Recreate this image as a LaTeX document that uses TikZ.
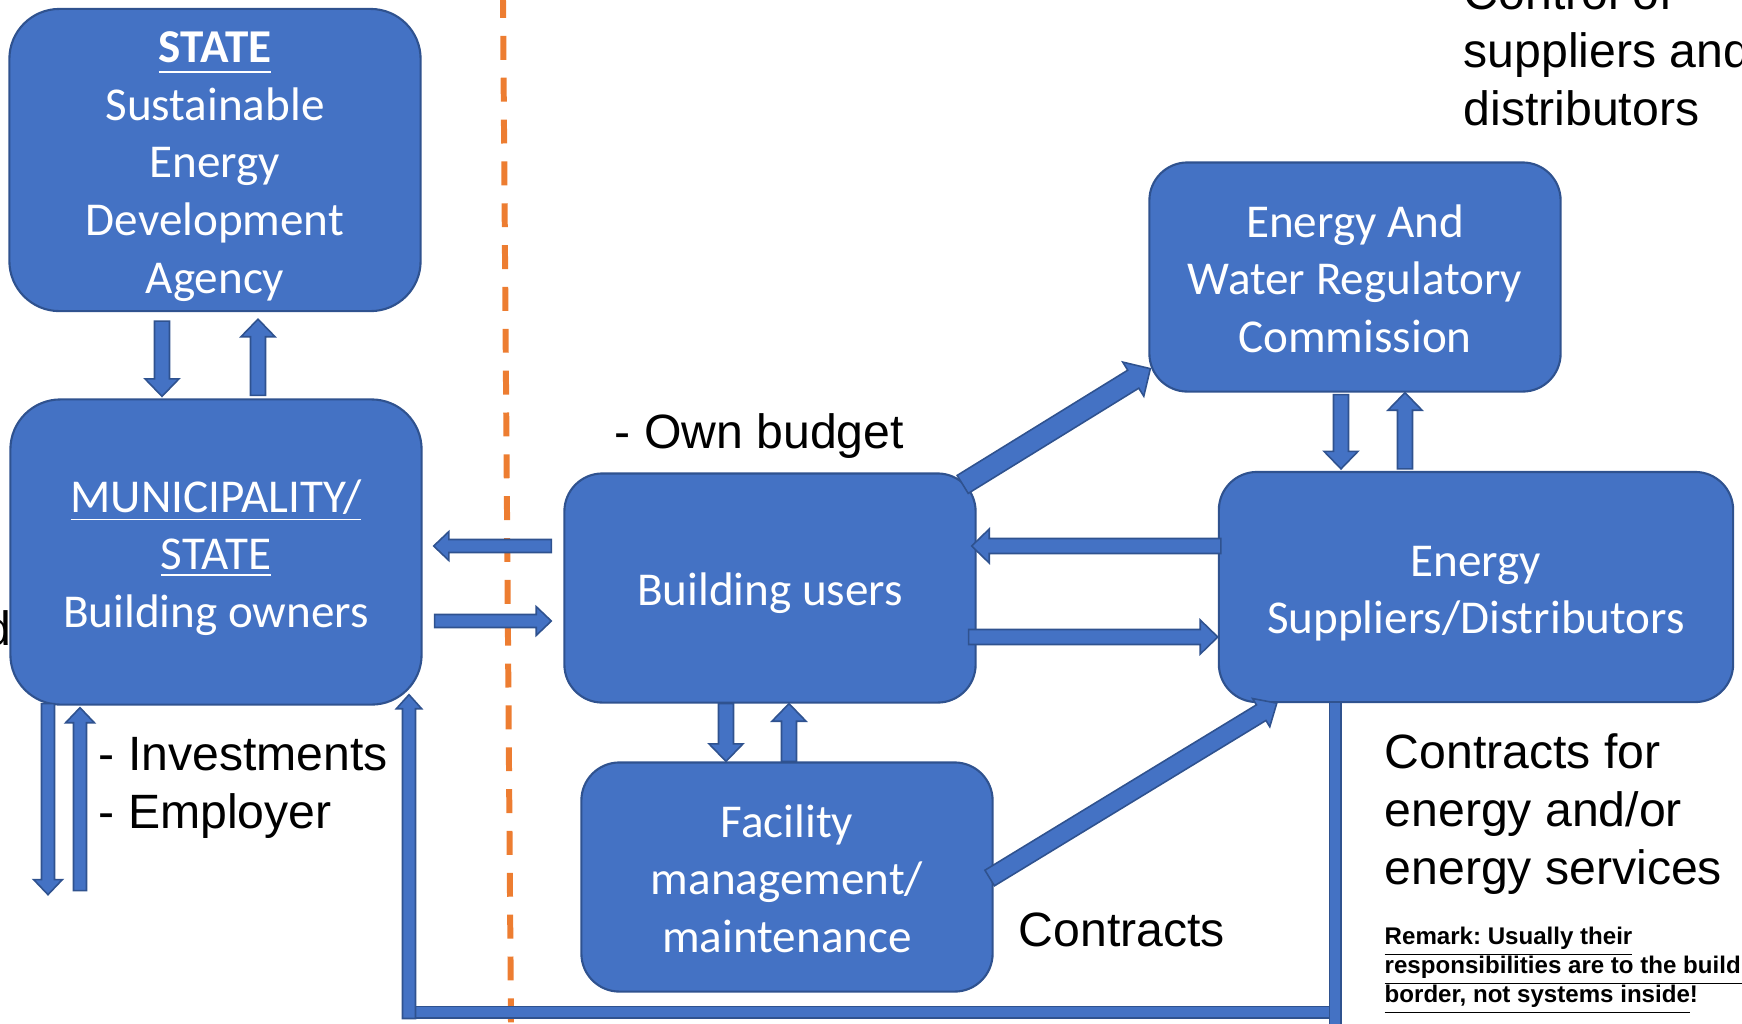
\documentclass[tikz,border=0pt]{standalone}
\usepackage{fontspec}
\setmainfont{Carlito}
\newfontfamily\arialfont{Liberation Sans}
\usepackage{tikz}
\usetikzlibrary{positioning,calc}
\usepackage{xcolor}
\definecolor{boxblue}{HTML}{4472C4}
\definecolor{boxline}{HTML}{2F528F}
\definecolor{divorange}{HTML}{ED7D31}
\newcommand{\boxfont}{\fontsize{13.4pt}{16.4pt}\selectfont}
\newcommand{\notefont}{\arialfont\fontsize{13.7pt}{16.5pt}\selectfont}
\newcommand{\remarkfont}{\arialfont\bfseries\fontsize{6.85pt}{8.25pt}\selectfont
\frenchspacing\lineskiplimit=-20pt\lineskip=0pt}
% fixed height of the first line
\newcommand{\bstrut}{\rule{0pt}{14pt}}
\newcommand{\nstrut}{\rule{0pt}{13pt}}
\tikzstyle{block}=[rectangle, draw=boxline, line width=0.6pt, fill=boxblue, text=white,
align=center, inner sep=0pt, font=\boxfont, minimum width=4.11cm, minimum height=2.29cm,
rounded corners=0.38cm, execute at end node={\rule[-3.8pt]{0pt}{0pt}}]
\tikzstyle{note}=[inner sep=0pt, align=left, font=\notefont, text=black,
execute at end node={\rule[-0.234em]{0pt}{0pt}}]
\tikzstyle{arrowbody}=[draw=boxline, line width=0.45pt, fill=boxblue, line join=miter]
\tikzstyle{loop line}=[draw=boxline, line width=0.45pt, double=boxblue, double distance=2.8pt,
line join=miter]
\tikzstyle{divider}=[draw=divorange, line width=1.7pt, dash pattern=on 6.8pt off 5.1pt,
dash phase=1.7pt]
\tikzset{ba shaft/.store in=\bashaft, ba head/.store in=\bahead, ba len/.store in=\balen,
ba shaft=2.13pt, ba head=4.84pt, ba len=5pt,
thin arrow/.style={ba shaft=1.85pt, ba head=4.1pt, ba len=4.3pt},
wide arrow/.style={ba shaft=3pt, ba head=5.7pt, ba len=5.7pt},
mid arrow/.style={ba shaft=2.6pt, ba head=4.7pt, ba len=5.2pt},
loop arrow/.style={ba shaft=1.85pt, ba head=3.6pt, ba len=4pt}}
% block arrow from #2 to #3
\newcommand{\blockarrow}[3][]{%
\begin{scope}[#1]
\coordinate (ba-s) at #2;
\coordinate (ba-e) at #3;
\coordinate (ba-n) at ($(ba-e)!\balen!(ba-s)$);
\draw[arrowbody] ($(ba-s)!\bashaft!90:(ba-e)$) -- ($(ba-n)!\bashaft!90:(ba-e)$)
-- ($(ba-n)!\bahead!90:(ba-e)$) -- (ba-e) -- ($(ba-n)!\bahead!-90:(ba-e)$)
-- ($(ba-n)!\bashaft!-90:(ba-e)$) -- ($(ba-s)!\bashaft!-90:(ba-e)$) -- cycle;
\end{scope}}

\begin{document}
\begin{tikzpicture}[x=0.01cm, y=-0.01cm]
            \useasboundingbox (0,0) rectangle (1742,1023);
            \clip (0,0) rectangle (1742,1023);
            % border between owners and users
            \draw[divider] (503,0) -- (511,1023);

            \node (sead)[block, minimum height=3.02cm, rounded corners=0.5cm] at (215,160)
                {\bstrut\textbf{\underline{STATE\rule[-1.3pt]{0pt}{0pt}}}\\Sustainable\\Energy\\Development\\Agency};
            \node (muni)[block, minimum height=3.05cm, rounded corners=0.5cm] at (216,552)
                {\bstrut\underline{MUNICIPALITY/}\\\underline{STATE}\\Building owners};
            \node (users)[block] at (770,588) {\bstrut Building users};
            \node (facil)[block] at (787,877) {\bstrut Facility\\management/\\maintenance};
            \node (regul)[block] at (1355,277) {\bstrut Energy And\\Water Regulatory\\Commission};
            \node (suppl)[block, minimum width=5.14cm, minimum height=2.3cm] at (1476,587)
                {\bstrut Energy\\Suppliers/Distributors};

            % state agency <-> owners
            \blockarrow{($(sead.south)+(-53,9)$)}{($(muni.north)+(-54,-2)$)}
            \blockarrow{($(muni.north)+(42,-3)$)}{($(sead.south)+(43,7)$)}
            % owners <-> users
            \blockarrow[thin arrow]{($(users.west)+(-12,-42)$)}{($(muni.east)+(11,-6)$)}
            \blockarrow[thin arrow]{($(muni.east)+(12,69)$)}{($(users.west)+(-12,33)$)}
            % investments / employer
            \blockarrow[thin arrow]{($(muni.south)+(-168,-2)$)}{($(muni.south)+(-168,189)$)}
            \blockarrow[thin arrow]{($(muni.south)+(-136,185)$)}{($(muni.south)+(-136,2)$)}
            % users <-> suppliers, regulator
            \blockarrow[wide arrow]{($(users.north east)+(-14,12)$)}{($(regul.south west)+(2,-24)$)}
            \blockarrow{($(suppl.west)+(3,-41)$)}{($(users.east)+(-5,-42)$)}
            \blockarrow{($(users.east)+(-8,49)$)}{($(suppl.west)+(0,50)$)}
            \blockarrow{($(regul.south)+(-14,2)$)}{($(suppl.north)+(-135,-2)$)}
            \blockarrow{($(suppl.north)+(-71,-2)$)}{($(regul.south)+(50,0)$)}
            % users <-> facility
            \blockarrow{($(users.south)+(-44,0)$)}{($(facil.north)+(-61,0)$)}
            \blockarrow{($(facil.north)+(2,0)$)}{($(users.south)+(19,0)$)}
            \blockarrow[mid arrow]{($(facil.east)+(-4,1)$)}{($(suppl.south west)+(59,0)$)}
            % suppliers back to owners
            \coordinate (loopr) at (1335,1012);
            \coordinate (loopl) at (409,1012);
            \draw[loop line] (loopr) -- (loopl);
            \blockarrow[loop arrow]{($(loopl)+(0,6.5)$)}{($(muni.south)+(193,-11)$)}
            \draw[loop line] ($(suppl.south)+(-141,0)$) -- ($(loopr)+(0,20)$);

            \node (budget)[note, anchor=west] at (614,431) {\nstrut- Own budget};
            \node (invest)[note, anchor=west] at (98,782) {\nstrut- Investments\\- Employer};
            \node (contr)[note, anchor=west] at (1018,929) {\nstrut Contracts};
            \node (energycontr)[note, anchor=west] at (1384,809)
                {\nstrut Contracts for\\energy and/or\\energy services};
            \node (remark)[note, anchor=west, font=\remarkfont] at (1384,971)
                {\underline{Remark: Usually their}\\\underline{responsibilities are to the building}\\\underline{border, not systems inside}!};
            \node (control)[note, anchor=west] at (1463,50) {\nstrut Control of\\suppliers and\\distributors};
            \node (cutoff)[note, anchor=east] at (12,628) {\nstrut d};
        \end{tikzpicture}
\end{document}
